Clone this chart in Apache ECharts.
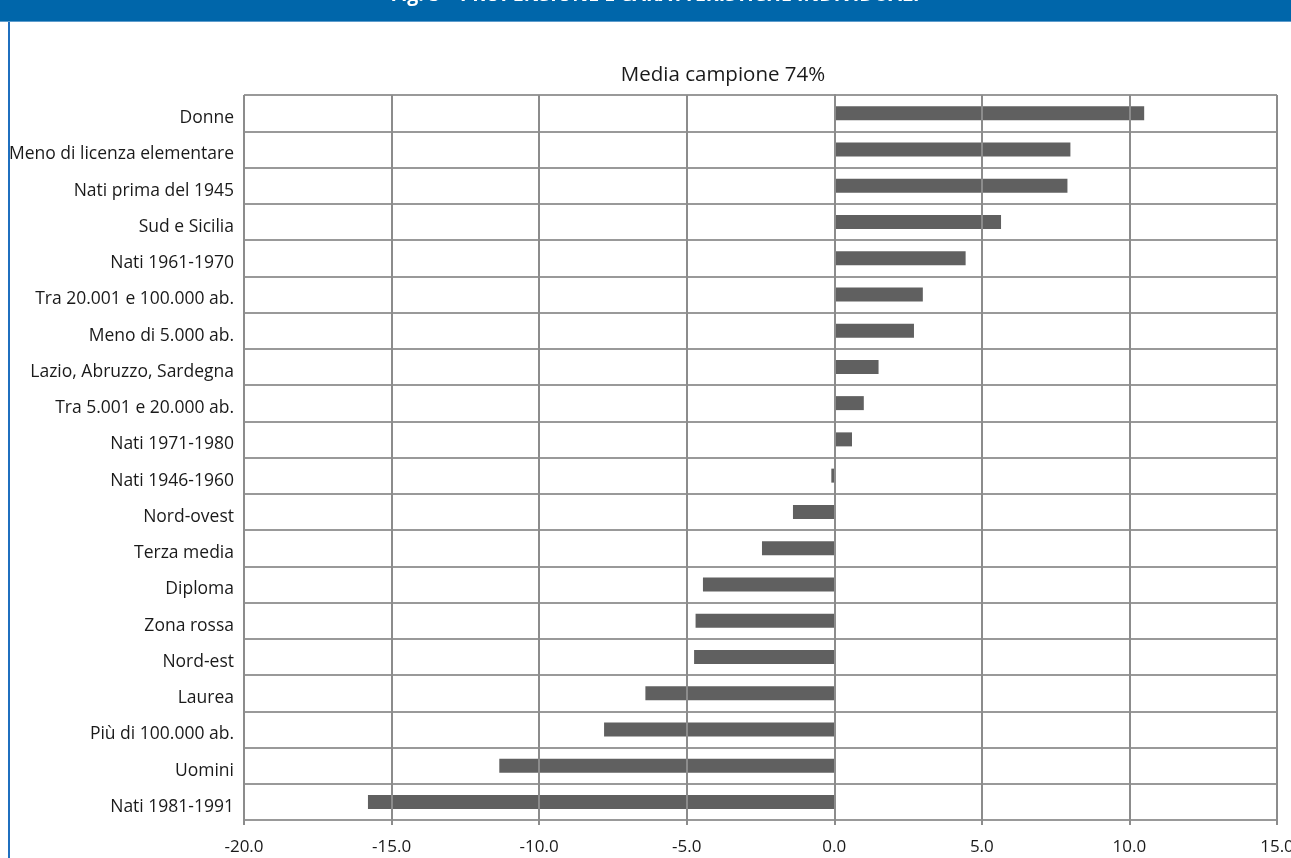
<!DOCTYPE html>
<html>
<head>
<meta charset="utf-8">
<style>
  html, body { margin: 0; padding: 0; background: #ffffff; }
  #chart { width: 1291px; height: 858px; }
</style>
<script src="https://cdn.jsdelivr.net/npm/echarts@6/dist/echarts.min.js"></script>
</head>
<body>
<div id="chart"></div>
<script>
// Differences from the sample mean (74%), by individual characteristic
const categories = [
  'Donne', 'Meno di licenza elementare', 'Nati prima del 1945', 'Sud e Sicilia',
  'Nati 1961-1970', 'Tra 20.001 e 100.000 ab.', 'Meno di 5.000 ab.',
  'Lazio, Abruzzo, Sardegna', 'Tra 5.001 e 20.000 ab.', 'Nati 1971-1980',
  'Nati 1946-1960', 'Nord-ovest', 'Terza media', 'Diploma', 'Zona rossa',
  'Nord-est', 'Laurea', 'Più di 100.000 ab.', 'Uomini', 'Nati 1981-1991'
];
const values = [
  10.5, 8.0, 7.9, 5.65, 4.45, 3.0, 2.7, 1.5, 1.0, 0.6,
  -0.1, -1.4, -2.45, -4.45, -4.7, -4.75, -6.4, -7.8, -11.35, -15.8
];
const xTicks = { min: -20, max: 15, interval: 5 };
const chartTitle = 'Media campione 74%';
const headerText = 'Fig. 5 – PROPENSIONE E CARATTERISTICHE INDIVIDUALI';

const font = '"Open Sans", Lato, sans-serif';
const chart = echarts.init(document.getElementById('chart'), null, { renderer: 'canvas' });

chart.setOption({
  backgroundColor: '#ffffff',
  animation: false,
  graphic: [
    { type: 'rect', shape: { x: 0, y: 0, width: 1291, height: 22 }, style: { fill: '#0066aa' }, z: 10 },
    { type: 'rect', shape: { x: 0, y: 21, width: 1291, height: 1 }, style: { fill: '#5d9ccc' }, z: 10 },
    { type: 'rect', shape: { x: 8, y: 22, width: 2, height: 836 }, style: { fill: '#1f6fbf' }, z: 10 },
    {
      type: 'text', x: 655, y: 5, z: 11,
      style: {
        text: headerText, fill: '#ffffff', align: 'center', verticalAlign: 'bottom',
        font: 'bold 19.5px ' + font
      }
    },
    {
      type: 'text', x: 723, y: 75, z: 11,
      style: {
        text: chartTitle, fill: '#1a1a1a', align: 'center', verticalAlign: 'middle',
        font: '20.5px ' + font
      }
    }
  ],
  grid: { left: 244, right: 14, top: 95, bottom: 38, containLabel: false, outerBoundsMode: 'none' },
  xAxis: {
    type: 'value',
    min: xTicks.min,
    max: xTicks.max,
    interval: xTicks.interval,
    z: 3,
    axisLine: { show: false },
    axisTick: { show: true, length: 5, lineStyle: { color: '#8c8c8c', width: 2 } },
    splitLine: { show: true, lineStyle: { color: '#8c8c8c', width: 2 } },
    axisLabel: {
      margin: 19,
      fontFamily: font, fontSize: 17, color: '#1a1a1a',
      formatter: v => v.toFixed(1)
    }
  },
  yAxis: {
    type: 'category',
    data: categories,
    inverse: true,
    axisLine: { show: true, lineStyle: { color: '#8c8c8c', width: 2 } },
    axisTick: { show: false },
    splitLine: { show: true, lineStyle: { color: '#999999', width: 2 } },
    axisLabel: {
      margin: 10,
      verticalAlign: 'top',
      lineHeight: 10,
      fontFamily: font, fontSize: 17.5, color: '#1a1a1a'
    }
  },
  series: [{
    type: 'bar',
    data: values,
    barWidth: 14,
    itemStyle: { color: '#606060' },
    z: 2
  }]
});
</script>
</body>
</html>
